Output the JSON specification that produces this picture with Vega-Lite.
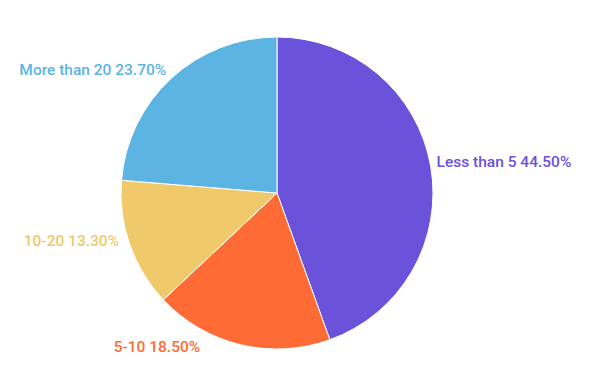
{
  "$schema": "https://vega.github.io/schema/vega-lite/v6.json",
  "width": 554,
  "height": 386,
  "autosize": "none",
  "padding": {"left": 0, "top": 0, "right": 48, "bottom": 5},
  "background": "white",
  "config": {"view": {"stroke": null}},
  "data": {
    "values": [
      {"cat": "Less than 5", "value": 44.5, "order": 1, "label": "Less than 5 44.50%"},
      {"cat": "5-10", "value": 18.5, "order": 2, "label": "5-10 18.50%"},
      {"cat": "10-20", "value": 13.3, "order": 3, "label": "10-20 13.30%"},
      {"cat": "More than 20", "value": 23.7, "order": 4, "label": "More than 20 23.70%"}
    ]
  },
  "encoding": {
    "theta": {"field": "value", "type": "quantitative", "stack": true},
    "order": {"field": "order", "type": "quantitative"},
    "color": {
      "field": "cat",
      "type": "nominal",
      "scale": {
        "domain": ["Less than 5", "5-10", "10-20", "More than 20"],
        "range": ["#6B52DB", "#FF6B35", "#EFC96A", "#5CB4E3"]
      },
      "legend": null
    }
  },
  "layer": [
    {"mark": {"type": "arc", "outerRadius": 156, "stroke": "white", "strokeWidth": 1}},
    {
      "mark": {"type": "text", "radius": 162, "align": "left", "baseline": "middle", "dy": -3, "font": "Roboto", "fontSize": 15.5, "fontWeight": 500},
      "encoding": {"text": {"condition": {"test": "datum.cat == 'Less than 5'", "field": "label"}, "value": ""}}
    },
    {
      "mark": {"type": "text", "radius": 162, "align": "right", "baseline": "middle", "dx": -39, "dy": -4, "font": "Roboto", "fontSize": 15.5, "fontWeight": 500},
      "encoding": {"text": {"condition": {"test": "datum.cat == '5-10'", "field": "label"}, "value": ""}}
    },
    {
      "mark": {"type": "text", "radius": 162, "align": "right", "baseline": "middle", "dx": -5, "dy": -5, "font": "Roboto", "fontSize": 15.5, "fontWeight": 500},
      "encoding": {"text": {"condition": {"test": "datum.cat == '10-20'", "field": "label"}, "value": ""}}
    },
    {
      "mark": {"type": "text", "radius": 162, "align": "right", "baseline": "middle", "dx": -1, "dy": -4, "font": "Roboto", "fontSize": 15.5, "fontWeight": 500},
      "encoding": {"text": {"condition": {"test": "datum.cat == 'More than 20'", "field": "label"}, "value": ""}}
    }
  ]
}
